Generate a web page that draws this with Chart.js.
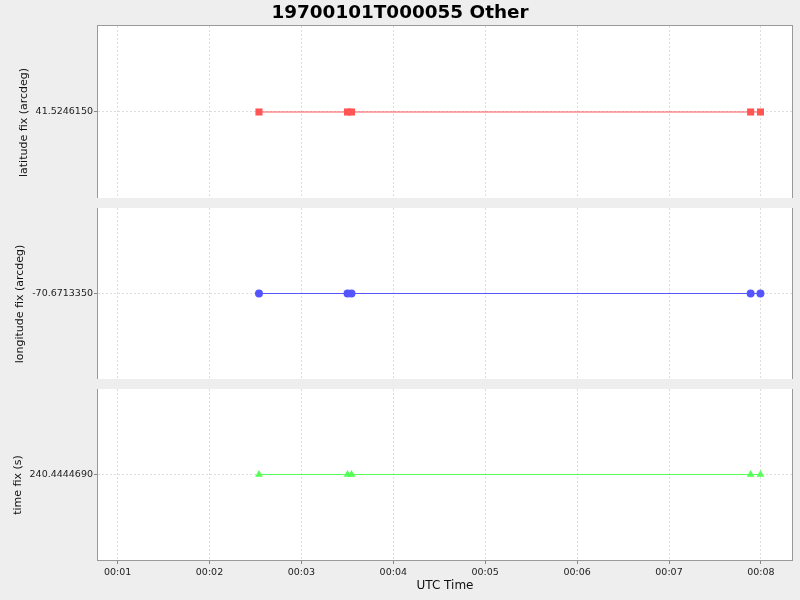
<!DOCTYPE html>
<html><head><meta charset="utf-8">
<script src="https://cdn.jsdelivr.net/npm/chart.js@4/dist/chart.umd.min.js"></script>
<style>
html,body{margin:0;padding:0;background:#eeeeee;width:800px;height:600px;overflow:hidden;position:relative}
canvas{position:absolute}
</style></head><body>
<canvas id="c1" width="800" height="198" style="top:0px;left:8px"></canvas>
<canvas id="c2" width="800" height="171" style="top:208px;left:0px"></canvas>
<canvas id="c3" width="800" height="211" style="top:389px;left:0px"></canvas>
<script>
const chartTitle = '19700101T000055 Other';
const xAxisTitle = 'UTC Time';
const utcSeconds = [152.3, 210.1, 212.7, 473.3, 479.7];
const latitudeFix = [41.5246150, 41.5246150, 41.5246150, 41.5246150, 41.5246150];
const longitudeFix = [-70.6713350, -70.6713350, -70.6713350, -70.6713350, -70.6713350];
const timeFix = [240.4444690, 240.4444690, 240.4444690, 240.4444690, 240.4444690];
const xTickSeconds = [60, 120, 180, 240, 300, 360, 420, 480];
const xTickLabels = ['00:01', '00:02', '00:03', '00:04', '00:05', '00:06', '00:07', '00:08'];
const xRange = [47.2, 500.3];
const yLabels = ['latitude fix (arcdeg)', 'longitude fix (arcdeg)', 'time fix (s)'];

const FONT = "'DejaVu Sans', sans-serif";
const GRID = '#dddddd';

const plotFrame = {
  id: 'plotFrame',
  beforeDraw(chart) {
    const a = chart.chartArea, ctx = chart.ctx;
    ctx.save(); ctx.fillStyle = '#ffffff';
    ctx.fillRect(a.left, a.top, a.right - a.left, a.bottom - a.top);
    ctx.restore();
  },
  afterDraw(chart) {
    const a = chart.chartArea, ctx = chart.ctx;
    ctx.save(); ctx.strokeStyle = '#999999'; ctx.lineWidth = 1;
    ctx.strokeRect(Math.round(a.left) - 0.5, Math.round(a.top) - 0.5, Math.round(a.right - a.left) + 1, Math.round(a.bottom - a.top) + 1);
    ctx.restore();
  }
};

function makeChart(id, values, yLabel, color, pointStyle, radius, titlePad, isTop, isBottom, shift) {
  const v = values[0];
  const data = utcSeconds.map((t, i) => ({x: t, y: values[i]}));
  return new Chart(document.getElementById(id), {
    type: 'scatter',
    data: {datasets: [{
      data: data, showLine: true, borderColor: color, backgroundColor: color,
      borderWidth: 1, pointStyle: pointStyle, pointRadius: radius, pointHoverRadius: radius,
      pointBorderColor: color, pointBackgroundColor: color, pointBorderWidth: 0, tension: 0
    }]},
    plugins: [plotFrame],
    options: {
      responsive: false, animation: false, events: [],
      layout: {padding: {left: 0, right: 8 + shift, top: 0, bottom: 0}, autoPadding: false},
      plugins: {
        legend: {display: false}, tooltip: {enabled: false},
        title: {display: isTop, text: chartTitle, color: '#000000',
          font: {family: FONT, size: 18.4, weight: 'bold', lineHeight: 1.2},
          padding: {top: 1.9, bottom: 2.0}}
      },
      scales: {
        x: {
          type: 'linear', min: xRange[0], max: xRange[1],
          afterBuildTicks(s) { s.ticks = xTickSeconds.map(t => ({value: t})); },
          afterFit(s) { s.height = isBottom ? 40 : 0; s.paddingLeft = 0; s.paddingRight = 0; },
          ticks: {display: isBottom, color: '#222222', font: {family: FONT, size: 9.5}, padding: 3,
            maxRotation: 0, autoSkip: false,
            callback: (val) => { const i = xTickSeconds.indexOf(val); return i >= 0 ? xTickLabels[i] : ''; }},
          grid: {color: GRID, lineWidth: 1, drawTicks: isBottom, tickLength: 4, tickColor: '#888888'},
          border: {display: false, dash: [2, 2]},
          title: {display: isBottom, text: xAxisTitle, color: '#111111',
            font: {family: FONT, size: 12}, padding: {top: 0, bottom: 7}}
        },
        y: {
          type: 'linear', min: v - 1, max: v + 1,
          afterBuildTicks(s) { s.ticks = [{value: v}]; },
          afterFit(s) { s.width = 98 - shift; s.paddingTop = 0; s.paddingBottom = 0; },
          ticks: {color: '#222222', font: {family: FONT, size: 9.5}, padding: 1,
            callback: (val) => Number(val).toFixed(7)},
          grid: {color: GRID, lineWidth: 1, drawTicks: true, tickLength: 4, tickColor: '#888888'},
          border: {display: false, dash: [2, 2]},
          title: {display: true, text: yLabel + '      ', color: '#111111',
            font: {family: FONT, size: 11}, padding: {top: titlePad - shift, bottom: 0}}
        }
      }
    }
  });
}

makeChart('c1', latitudeFix, yLabels[0], '#ff5555', 'rect', 5, 18, true, false, 8);
makeChart('c2', longitudeFix, yLabels[1], '#5555ff', 'circle', 4, 13.5, false, false, 0);
makeChart('c3', timeFix, yLabels[2], '#55ff55', 'triangle', 4.5, 11.5, false, true, 0);
</script></body></html>
